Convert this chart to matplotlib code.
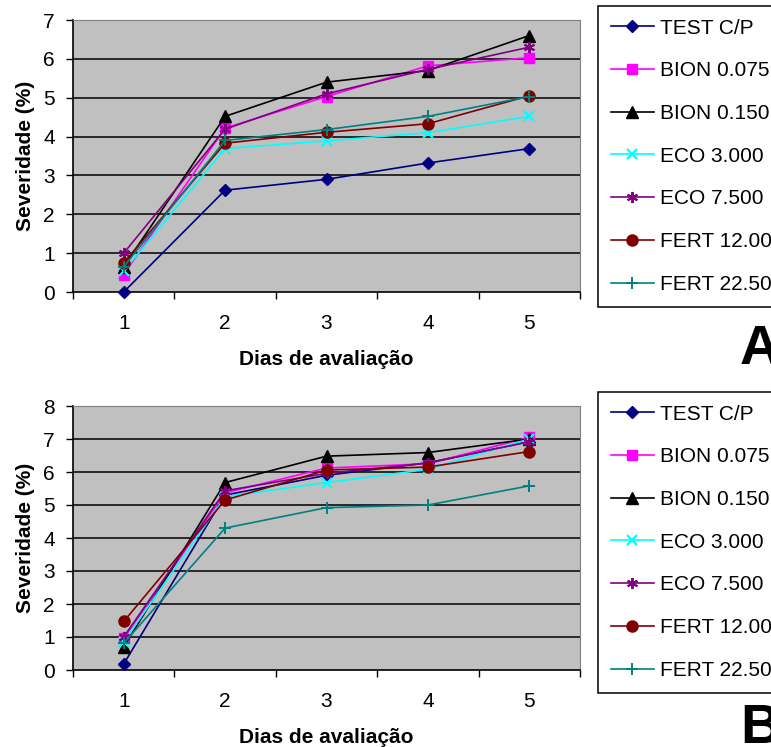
import matplotlib
matplotlib.use("Agg")
import matplotlib.pyplot as plt

plt.rcParams["font.family"] = ["Liberation Sans", "DejaVu Sans"]

# ── data ─────────────────────────────────────────────────────────────────────
days = [1, 2, 3, 4, 5]
series_names = ["TEST C/P", "BION 0.075", "BION 0.150", "ECO 3.000",
                "ECO 7.500", "FERT 12.000", "FERT 22.500"]

a_test   = [0.00, 2.62, 2.90, 3.32, 3.69]
a_bion1  = [0.45, 4.22, 5.03, 5.82, 6.03]
a_bion2  = [0.65, 4.52, 5.40, 5.70, 6.60]
a_eco1   = [0.54, 3.69, 3.89, 4.10, 4.52]
a_eco2   = [1.00, 4.19, 5.10, 5.73, 6.30]
a_fert1  = [0.75, 3.83, 4.11, 4.33, 5.05]
a_fert2  = [0.65, 3.90, 4.18, 4.52, 5.03]

b_test   = [0.18, 5.30, 5.90, 6.28, 6.92]
b_bion1  = [0.96, 5.37, 6.12, 6.25, 7.05]
b_bion2  = [0.70, 5.68, 6.48, 6.59, 7.00]
b_eco1   = [0.86, 5.25, 5.68, 6.08, 7.00]
b_eco2   = [1.00, 5.43, 5.96, 6.27, 6.92]
b_fert1  = [1.47, 5.15, 6.06, 6.15, 6.62]
b_fert2  = [0.81, 4.30, 4.92, 5.00, 5.58]

panel_a = [a_test, a_bion1, a_bion2, a_eco1, a_eco2, a_fert1, a_fert2]
panel_b = [b_test, b_bion1, b_bion2, b_eco1, b_eco2, b_fert1, b_fert2]

# ── styles (Excel-like) ──────────────────────────────────────────────────────
styles = [
    dict(color="#000080", marker="D", ms=6),
    dict(color="#FF00FF", marker="s", ms=7),
    dict(color="#000000", marker="^", ms=8),
    dict(color="#00FFFF", marker="x", ms=7, mew=1.6),
    dict(color="#800080", marker=(6, 2, 0), ms=8, mew=1.4),
    dict(color="#800000", marker="o", ms=8),
    dict(color="#008080", marker="+", ms=8, mew=1.4),
]

W, H = 771, 747
fig = plt.figure(figsize=(W / 100, H / 100), dpi=100)


def draw_panel(rect, data, ymax, legend_top, letter, letter_y):
    ax = fig.add_axes(rect)
    ax.set_facecolor("#C0C0C0")
    for vals, name, st in zip(data, series_names, styles):
        ax.plot(days, vals, color=st["color"], lw=1.2, marker=st["marker"],
                ms=st["ms"], mew=st.get("mew", 1.0), mfc=st["color"],
                mec=st["color"], label=name, clip_on=False, zorder=3)
    ax.set_xlim(0.5, 5.5)
    ax.set_ylim(0, ymax)
    ax.set_yticks(range(ymax + 1))
    for y in range(1, ymax + 1):
        ax.axhline(y, color="black", lw=1.1, zorder=1)
    # tick marks between categories, labels centred on categories
    ax.set_xticks([0.5, 1.5, 2.5, 3.5, 4.5, 5.5])
    ax.set_xticklabels([])
    ax.set_xticks(days, minor=True)
    ax.set_xticklabels([str(d) for d in days], minor=True)
    ax.tick_params(axis="x", which="major", direction="out", length=5, width=1.0)
    ax.tick_params(axis="x", which="minor", length=0, pad=16, labelsize=15)
    ax.tick_params(axis="y", direction="out", length=5, width=1.0, pad=8,
                   labelsize=15)
    ax.spines["top"].set_color("#808080")
    ax.spines["right"].set_color("#808080")
    ax.spines["left"].set_linewidth(1.2)
    ax.spines["bottom"].set_linewidth(1.2)
    ax.set_ylabel("Severidade (%)", fontsize=15, fontweight="bold", labelpad=6)
    ax.set_xlabel("Dias de avaliação", fontsize=15, fontweight="bold",
                  labelpad=12)

    handles, labels = ax.get_legend_handles_labels()
    leg = fig.legend(handles, labels, loc="upper left",
                     bbox_to_anchor=(598 / W, 1 - legend_top / H),
                     borderaxespad=0, fontsize=15, frameon=True,
                     fancybox=False, edgecolor="black", framealpha=1,
                     borderpad=0.6, labelspacing=1.14, handlelength=2.1,
                     handletextpad=0.3)
    leg.get_frame().set_linewidth(1.1)
    fig.text(740 / W, 1 - letter_y / H, letter, fontsize=40,
             fontweight="bold", ha="left", va="baseline")
    return ax


draw_panel([73 / W, 1 - 292 / H, 507 / W, 272 / H], panel_a, 7, 6, "A", 364)
draw_panel([73 / W, 1 - 670 / H, 507 / W, 264 / H], panel_b, 8, 392, "B", 743)

fig.savefig("out.png", dpi=100)
